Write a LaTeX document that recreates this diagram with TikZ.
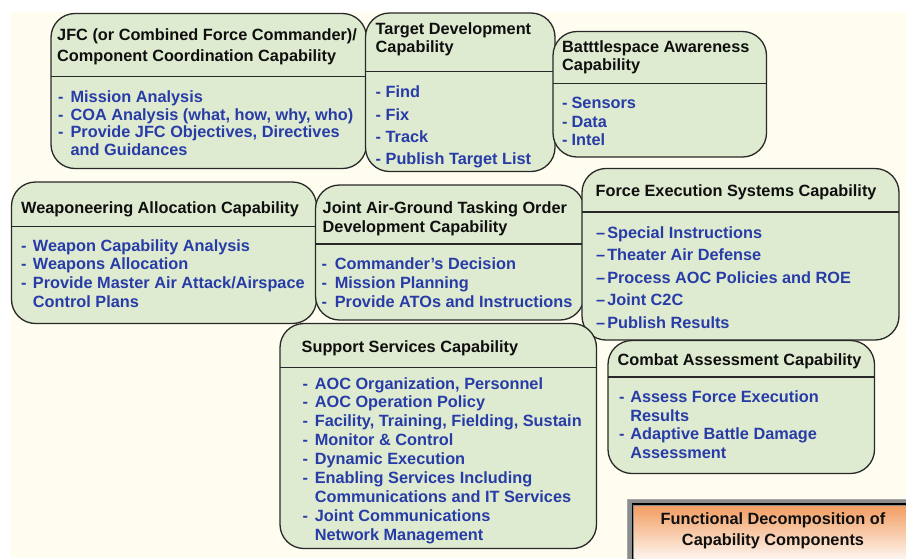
\documentclass[tikz,border=0pt]{standalone}
\usepackage{fontspec}
\setmainfont{Liberation Sans}
\definecolor{cream}{RGB}{255,253,240}
\definecolor{boxfill}{RGB}{222,235,208}
\definecolor{boxline}{RGB}{40,40,40}
\definecolor{itemblue}{RGB}{40,60,168}
\definecolor{titleblack}{RGB}{15,15,15}
\definecolor{orangetop}{RGB}{242,158,98}
\definecolor{framegray}{RGB}{140,140,140}
\newcommand\bul[1]{-\hspace{#1}}
\newcommand\ind[1]{\hphantom{-}\hspace{#1}}
\newcommand\edash{–\hspace{2pt}}
\begin{document}
\begin{tikzpicture}[x=1pt,y=-1pt,
  capbox/.style={draw=boxline,fill=boxfill,line width=1.3pt,rounded corners=24pt},
  divider/.style={draw=boxline,line width=1.3pt},
  title/.style={anchor=base west,inner sep=0pt,align=left,font=\fontsize{16.3}{#1}\selectfont\bfseries,text=titleblack},
  items/.style={anchor=base west,inner sep=0pt,align=left,font=\fontsize{16.3}{#1}\selectfont\bfseries,text=itemblue},
]
% node positions below are the baselines of the LAST line of each node
\useasboundingbox (0,0) rectangle (906,558);
\fill[white] (0,0) rectangle (906,558);
\fill[cream] (11,12) rectangle (906,558);

% JFC
\path[capbox] (51,13.5) rectangle (366.5,168.5);
\draw[divider] (51,76.5) -- (366.5,76.5);
\node[title=21] (jfcT) at (57,61.5) {JFC (or Combined Force Commander)/\\Component Coordination Capability};
\node[items=17.8] (jfcI) at (58,155.7) {\bul{7pt}Mission Analysis\\\bul{7pt}COA Analysis (what, how, why, who)\\\bul{7pt}Provide JFC Objectives, Directives\\\ind{7pt}and Guidances};

% Target development
\path[capbox] (365.5,13) rectangle (555,171.5);
\draw[divider] (365.5,71.5) -- (555,71.5);
\node[title=18] (tgtT) at (375.5,52.3) {Target Development\\Capability};
\node[items=22.4] (tgtI) at (375.5,164.9) {\bul{4.5pt}Find\\\bul{4.5pt}Fix\\\bul{4.5pt}Track\\\bul{4.5pt}Publish Target List};

% Battlespace awareness
\path[capbox] (553,31.5) rectangle (766.5,157);
\draw[divider] (553,83.5) -- (766.5,83.5);
\node[title=18.4] (bsaT) at (562,70.7) {Batttlespace Awareness\\Capability};
\node[items=18.7] (bsaI) at (562,145.7) {\bul{4pt}Sensors\\\bul{4pt}Data\\\bul{4pt}Intel};

% Weaponeering
\path[capbox] (11.5,182) rectangle (316.5,323.5);
\draw[divider] (11.5,226.5) -- (316.5,226.5);
\node[title=19] (wpnT) at (21,213.3) {Weaponeering Allocation Capability};
\node[items=18.8] (wpnI) at (21,307.4) {\bul{6.3pt}Weapon Capability Analysis\\\bul{6.3pt}Weapons Allocation\\\bul{6.3pt}Provide Master Air Attack/Airspace\\\ind{6.3pt}Control Plans};

% Joint air-ground
\path[capbox] (315.5,185) rectangle (584,320);
\draw[divider] (315.5,244) -- (584,244);
\node[title=19] (jagT) at (322.5,232.3) {Joint Air-Ground Tasking Order\\Development Capability};
\node[items=19] (jagI) at (321.5,307.3) {\bul{7.7pt}Commander’s Decision\\\bul{7.7pt}Mission Planning\\\bul{7.7pt}Provide ATOs and Instructions};

% Force execution
\path[capbox] (582,168.5) rectangle (899,340);
\draw[divider] (582,212) -- (899,212);
\node[title=19] (fesT) at (595.5,196.7) {Force Execution Systems Capability};
\node[items=22.5] (fesI) at (596,328.3) {\edash Special Instructions\\\edash Theater Air Defense\\\edash Process AOC Policies and ROE\\\edash Joint C2C\\\edash Publish Results};

% Support services
\path[capbox] (280,323.5) rectangle (596.5,548.5);
\draw[divider] (280,367.5) -- (596.5,367.5);
\node[title=19] (ssT) at (301.5,352.3) {Support Services Capability};
\node[items=18.87] (ssI) at (302.5,540) {\bul{6.7pt}AOC Organization, Personnel\\\bul{6.7pt}AOC Operation Policy\\\bul{6.7pt}Facility, Training, Fielding, Sustain\\\bul{6.7pt}Monitor \& Control\\\bul{6.7pt}Dynamic Execution\\\bul{6.7pt}Enabling Services Including\\\ind{6.7pt}Communications and IT Services\\\bul{6.7pt}Joint Communications\\\ind{6.7pt}Network Management};

% Combat assessment
\path[capbox] (608,340.5) rectangle (874.5,473.5);
\draw[divider] (608,377) -- (874.5,377);
\node[title=19] (caT) at (617.5,365) {Combat Assessment Capability};
\node[items=18.8] (caI) at (619,458.7) {\bul{5.7pt}Assess Force Execution\\\ind{5.7pt}Results\\\bul{5.7pt}Adaptive Battle Damage\\\ind{5.7pt}Assessment};

% Functional decomposition label
\fill[framegray] (627,498.5) rectangle (912,565);
\draw[gray!70,line width=0.8pt] (627.4,498.9) rectangle (912,565);
\draw[black,line width=1.6pt] (632.5,504) rectangle (912,565);
\shade[top color=orangetop,bottom color=white] (634.5,506) rectangle (912,565);
\node[anchor=base,inner sep=0pt,align=center,font=\fontsize{16.3}{21}\selectfont\bfseries,text=titleblack] (fdT) at (773,545) {Functional Decomposition of\\Capability Components};
\end{tikzpicture}
\end{document}
